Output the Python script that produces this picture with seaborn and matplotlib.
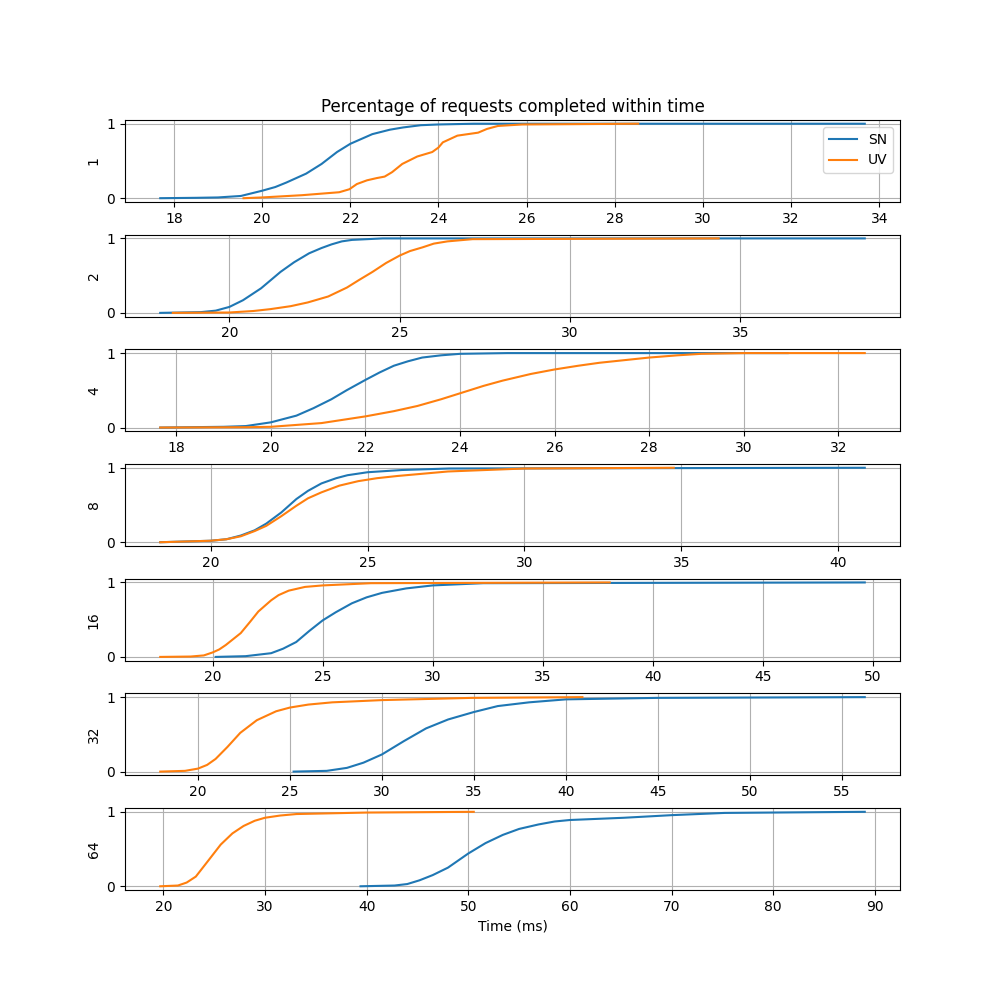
import pandas as pd
import matplotlib
matplotlib.use('Agg')
import matplotlib.pyplot as plt
import seaborn as sns

# concurrency levels, one panel each
levels = [1, 2, 4, 8, 16, 32, 64]

# (time ms, fraction completed)
sn1_t = [17.69, 18.5, 19.0, 19.52, 20.0, 20.3, 20.55, 21.0, 21.35, 21.7, 22.0, 22.5, 22.9, 23.2, 23.6, 24.0, 24.8, 33.67]
sn1_p = [0.0, 0.005, 0.01, 0.03, 0.1, 0.15, 0.21, 0.33, 0.46, 0.62, 0.73, 0.86, 0.92, 0.95, 0.98, 0.99, 1.0, 1.0]
uv1_t = [19.58, 20.0, 20.9, 21.75, 21.98, 22.15, 22.38, 22.6, 22.78, 22.95, 23.18, 23.52, 23.86, 24.0, 24.1, 24.43, 24.9, 25.1, 25.35, 25.9, 28.53]
uv1_p = [0.0, 0.01, 0.04, 0.08, 0.12, 0.19, 0.24, 0.27, 0.29, 0.35, 0.46, 0.56, 0.62, 0.68, 0.75, 0.84, 0.88, 0.93, 0.97, 0.99, 1.0]

sn2_t = [17.97, 19.16, 19.6, 20.0, 20.4, 20.93, 21.5, 21.9, 22.34, 22.7, 23.0, 23.3, 23.6, 24.5, 38.65]
sn2_p = [0.0, 0.01, 0.03, 0.08, 0.17, 0.33, 0.55, 0.68, 0.8, 0.87, 0.92, 0.96, 0.98, 1.0, 1.0]
uv2_t = [18.34, 20.0, 20.7, 21.2, 21.8, 22.3, 22.9, 23.45, 23.8, 24.2, 24.6, 25.0, 25.3, 25.67, 26.0, 26.4, 27.14, 34.36]
uv2_p = [0.0, 0.005, 0.025, 0.05, 0.09, 0.14, 0.22, 0.34, 0.44, 0.55, 0.67, 0.77, 0.83, 0.88, 0.93, 0.96, 0.99, 1.0]

sn4_t = [17.66, 19.0, 19.47, 20.0, 20.54, 20.9, 21.28, 21.6, 22.0, 22.3, 22.6, 22.9, 23.2, 23.6, 24.0, 25.0, 30.93]
sn4_p = [0.0, 0.01, 0.02, 0.07, 0.16, 0.26, 0.38, 0.5, 0.64, 0.74, 0.83, 0.89, 0.94, 0.97, 0.99, 1.0, 1.0]
uv4_t = [17.66, 19.5, 20.0, 21.07, 22.0, 22.6, 23.1, 23.6, 24.0, 24.5, 24.9, 25.5, 26.0, 26.5, 26.95, 28.0, 28.6, 29.1, 30.0, 32.56]
uv4_p = [0.0, 0.005, 0.01, 0.06, 0.15, 0.22, 0.29, 0.38, 0.46, 0.56, 0.63, 0.72, 0.78, 0.83, 0.87, 0.94, 0.97, 0.99, 1.0, 1.0]

sn8_t = [18.39, 20.0, 20.5, 20.96, 21.4, 21.77, 22.25, 22.73, 23.1, 23.53, 24.0, 24.36, 25.0, 26.1, 27.6, 40.85]
sn8_p = [0.0, 0.02, 0.04, 0.09, 0.16, 0.25, 0.4, 0.58, 0.69, 0.79, 0.86, 0.9, 0.94, 0.97, 0.99, 1.0]
uv8_t = [18.39, 20.0, 20.5, 20.96, 21.4, 21.77, 22.25, 22.73, 23.1, 23.53, 24.1, 24.7, 25.3, 25.96, 27.56, 30.0, 34.76]
uv8_p = [0.0, 0.02, 0.04, 0.08, 0.15, 0.22, 0.35, 0.49, 0.59, 0.67, 0.76, 0.82, 0.86, 0.89, 0.95, 0.99, 1.0]

sn16_t = [20.14, 21.5, 22.66, 23.2, 23.8, 24.4, 25.0, 25.6, 26.33, 27.0, 27.7, 28.8, 30.0, 32.3, 49.64]
sn16_p = [0.0, 0.01, 0.05, 0.11, 0.2, 0.35, 0.49, 0.6, 0.72, 0.8, 0.86, 0.92, 0.96, 0.99, 1.0]
uv16_t = [17.62, 19.0, 19.6, 20.0, 20.3, 20.6, 21.28, 21.7, 22.08, 22.66, 23.0, 23.46, 24.2, 25.0, 27.2, 38.05]
uv16_p = [0.0, 0.005, 0.02, 0.06, 0.1, 0.16, 0.32, 0.47, 0.61, 0.76, 0.83, 0.89, 0.94, 0.96, 0.99, 1.0]

sn32_t = [25.2, 27.0, 28.1, 29.0, 30.0, 31.2, 32.4, 33.6, 35.0, 36.3, 38.0, 40.0, 45.0, 56.25]
sn32_p = [0.0, 0.01, 0.05, 0.12, 0.23, 0.41, 0.58, 0.7, 0.8, 0.88, 0.93, 0.97, 0.99, 1.0]
uv32_t = [17.95, 19.3, 20.0, 20.5, 20.96, 21.6, 22.3, 23.2, 24.25, 25.0, 26.0, 27.3, 30.0, 34.9, 40.9]
uv32_p = [0.0, 0.01, 0.04, 0.09, 0.17, 0.33, 0.52, 0.69, 0.81, 0.86, 0.9, 0.93, 0.96, 0.99, 1.0]

sn64_t = [39.4, 42.75, 44.0, 45.2, 46.5, 48.0, 50.0, 51.7, 53.4, 55.0, 56.9, 58.5, 60.0, 65.3, 70.0, 75.2, 89.0]
sn64_p = [0.0, 0.01, 0.03, 0.08, 0.15, 0.25, 0.44, 0.58, 0.69, 0.77, 0.83, 0.87, 0.89, 0.92, 0.955, 0.985, 1.0]
uv64_t = [19.7, 21.44, 22.3, 23.2, 24.4, 25.65, 26.8, 27.9, 29.0, 30.0, 31.5, 33.1, 40.0, 50.54]
uv64_p = [0.0, 0.01, 0.05, 0.13, 0.34, 0.56, 0.71, 0.81, 0.88, 0.92, 0.95, 0.97, 0.99, 1.0]

sn_t = [sn1_t, sn2_t, sn4_t, sn8_t, sn16_t, sn32_t, sn64_t]
sn_p = [sn1_p, sn2_p, sn4_p, sn8_p, sn16_p, sn32_p, sn64_p]
uv_t = [uv1_t, uv2_t, uv4_t, uv8_t, uv16_t, uv32_t, uv64_t]
uv_p = [uv1_p, uv2_p, uv4_p, uv8_p, uv16_p, uv32_p, uv64_p]

fig, axes = plt.subplots(len(levels), 1, figsize=(10, 10), dpi=100)
plt.subplots_adjust(hspace=0.4)

for i, c in enumerate(levels):
    ax = axes[i]
    df = pd.concat([
        pd.DataFrame({'t': sn_t[i], 'p': sn_p[i], 'server': 'SN'}),
        pd.DataFrame({'t': uv_t[i], 'p': uv_p[i], 'server': 'UV'}),
    ])
    sns.lineplot(data=df, x='t', y='p', hue='server', estimator=None,
                 palette=['tab:blue', 'tab:orange'], ax=ax, legend=(i == 0))
    ax.set_yticks([0, 1])
    ax.set_ylabel(str(c))
    ax.set_xlabel('')
    ax.grid(True)
    if i == 0:
        ax.set_title("Percentage of requests completed within time")
        sns.move_legend(ax, 'upper right', title=None)

axes[-1].set_xlabel("Time (ms)")

plt.savefig('out.png')
